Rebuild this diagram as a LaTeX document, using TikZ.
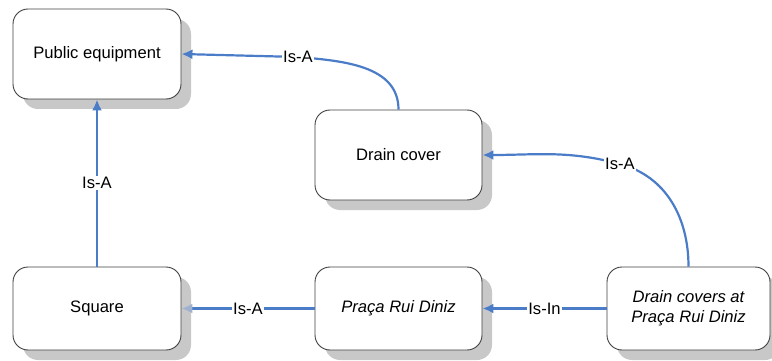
\documentclass[tikz,border=0pt]{standalone}
\usepackage{fontspec}
\setmainfont{Liberation Sans}
\usetikzlibrary{arrows.meta,shadows}
\definecolor{linkblue}{HTML}{4A7CC7}
\definecolor{fadedtip}{HTML}{9FB1CF}
\definecolor{boxedge}{HTML}{404040}
\definecolor{shadowgray}{HTML}{C8C8C8}
\tikzset{
  concept/.style={draw=boxedge, line width=0.9pt, fill=white, rounded corners=15pt,
    align=center, inner sep=0pt,
    general shadow={shadow xshift=10pt, shadow yshift=-10pt, fill=shadowgray, opacity=1},
    font=\fontsize{16.6}{20}\selectfont},
  link/.style={draw=linkblue, line width=2.2pt, -{Latex[length=11pt,width=10pt]}},
  rel/.style={fill=white, inner sep=1pt, font=\fontsize{16.6}{20}\selectfont}
}
\begin{document}
\begin{tikzpicture}[x=1pt,y=-1pt]
  \useasboundingbox (0,0) rectangle (772,361);
  % concept boxes
  \node[concept, minimum width=168pt, minimum height=90pt] (pe) at (97,54) {Public equipment};
  \node[concept, minimum width=167pt, minimum height=90pt] (dc) at (398.5,155) {Drain cover};
  \node[concept, minimum width=168pt, minimum height=83pt] (sq) at (97,308.5) {Square};
  \node[concept, minimum width=167pt, minimum height=83pt] (prd) at (398.5,308.5) {\itshape Praça Rui Diniz};
  \node[concept, minimum width=163pt, minimum height=83pt] (dca) at (688.5,308.5) {\itshape Drain covers at\\\itshape Praça Rui Diniz};
  % bend points that carry the curved labels
  \coordinate (k1) at (298,57);
  \coordinate (k2) at (620,164);
  % relations
  \draw[link] (sq.north) -- node[rel] {Is-A} (pe.south);
  \draw[link] (dc.north) to[out=90,in=-5] (k1) -- (pe.east);
  \node[rel] at (k1) {Is-A};
  \draw[link] (dca.north) to[out=90,in=-15] (k2) to[out=165,in=0] (dc.east);
  \node[rel] at (k2) {Is-A};
  \draw[link, -{Latex[length=11pt,width=10pt,color=fadedtip]}] (prd.west) -- node[rel] {Is-A} (sq.east);
  \draw[link] (dca.west) -- node[rel] {Is-In} (prd.east);
\end{tikzpicture}
\end{document}
